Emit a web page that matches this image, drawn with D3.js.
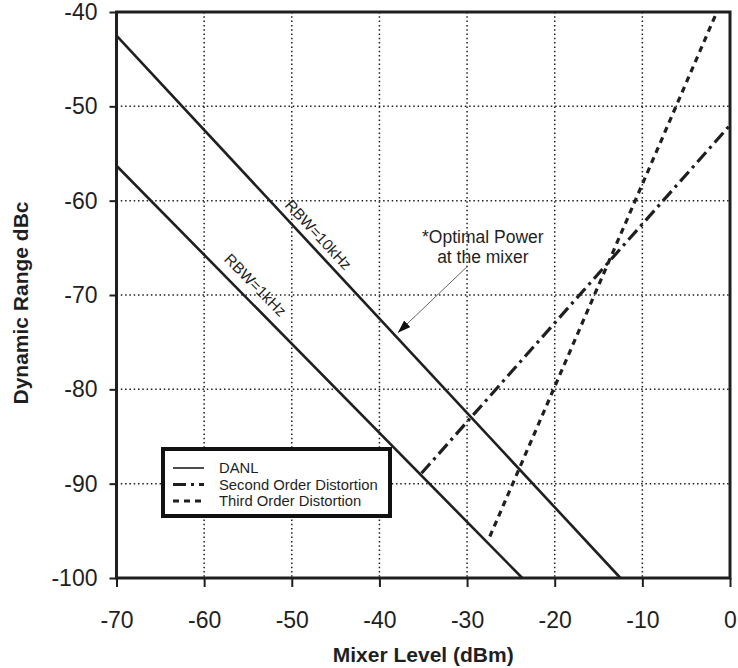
<!DOCTYPE html>
<html>
  <head>
    <meta charset="UTF-8">
    <title>Dynamic Range vs Mixer Level</title>
    <style>
      body { margin: 0; background: #fff; }
      svg { display: block; font-family: "Liberation Sans", Arial, sans-serif; }
    </style>
  </head>
  <body>
    <svg></svg>
    <script src="https://d3js.org/d3.v7.min.js"></script>
    <script>

// ---- data ----
var xTicks = [-70, -60, -50, -40, -30, -20, -10, 0];
var yTicks = [-100, -90, -80, -70, -60, -50, -40];

// each series is two end points: [mixer level dBm, dynamic range dBc]
var danl10kX = [-70, -12.5];
var danl10kY = [-42.5, -100];
var danl1kX = [-70, -23.7];
var danl1kY = [-56.3, -100];
var secondX = [-35.2, 0];
var secondY = [-88.9, -52.0];
var thirdX = [-27.4, -1.5];
var thirdY = [-95.6, -40];

var legendLabels = ["DANL", "Second Order Distortion", "Third Order Distortion"];
var noteLines = ["*Optimal Power", "at the mixer"];

var config = {
  width: 738,
  height: 668,
  margin: { top: 12, right: 8, bottom: 90, left: 116.5 },
  ink: "#1f1f1f"
};

var svg = d3.select("svg")
  .attr("width", config.width)
  .attr("height", config.height);

var m = config.margin;
var w = config.width - m.left - m.right,
    h = config.height - m.top - m.bottom;

var x = d3.scaleLinear().domain([-70, 0]).range([m.left, m.left + w]);
var y = d3.scaleLinear().domain([-100, -40]).range([m.top + h, m.top]);

function pts(xs, ys) {
  return xs.map(function(d, i) { return [d, ys[i]]; });
}
var line = d3.line().x(function(d) { return x(d[0]); }).y(function(d) { return y(d[1]); });

// dotted grid
var grid = svg.append("g").attr("stroke", config.ink).attr("stroke-width", 1.5)
  .attr("stroke-dasharray", "1.5,2.8");
grid.selectAll(".vg").data(xTicks.slice(1, -1)).enter().append("line")
  .attr("x1", function(d) { return x(d); }).attr("x2", function(d) { return x(d); })
  .attr("y1", y(-40)).attr("y2", y(-100));
grid.selectAll(".hg").data(yTicks.slice(1, -1)).enter().append("line")
  .attr("y1", function(d) { return y(d); }).attr("y2", function(d) { return y(d); })
  .attr("x1", x(-70)).attr("x2", x(0));

// series
var series = [
  { data: pts(danl10kX, danl10kY), dash: null, width: 2.6 },
  { data: pts(danl1kX, danl1kY), dash: null, width: 2.6 },
  { data: pts(secondX, secondY), dash: "13,5,3,5", width: 3.2 },
  { data: pts(thirdX, thirdY), dash: "6,5", width: 3.2 }
];
svg.append("g").selectAll("path").data(series).enter().append("path")
  .attr("d", function(d) { return line(d.data); })
  .attr("fill", "none")
  .attr("stroke", config.ink)
  .attr("stroke-width", function(d) { return d.width; })
  .attr("stroke-dasharray", function(d) { return d.dash; });

// labels along the DANL lines
function slopeAngle(xs, ys) {
  return Math.atan2(y(ys[1]) - y(ys[0]), x(xs[1]) - x(xs[0])) * 180 / Math.PI;
}
function onLine(xs, ys, xv) {
  var t = (xv - xs[0]) / (xs[1] - xs[0]);
  return [x(xv), y(ys[0] + t * (ys[1] - ys[0]))];
}
[
  { text: "RBW=10kHz", xs: danl10kX, ys: danl10kY, at: -48, dy: -7 },
  { text: "RBW=1kHz", xs: danl1kX, ys: danl1kY, at: -55.4, dy: -10 }
].forEach(function(l) {
  var p = onLine(l.xs, l.ys, l.at);
  svg.append("text")
    .attr("transform", "translate(" + p[0] + "," + p[1] + ") rotate(" + slopeAngle(l.xs, l.ys) + ")")
    .attr("dy", l.dy)
    .attr("text-anchor", "middle")
    .attr("font-size", 15.5)
    .attr("fill", config.ink)
    .text(l.text);
});

// optimal power note with arrow
svg.append("defs").append("marker")
  .attr("id", "head")
  .attr("viewBox", "0 0 13 9")
  .attr("refX", 13).attr("refY", 4.5)
  .attr("markerWidth", 13).attr("markerHeight", 9)
  .attr("markerUnits", "userSpaceOnUse")
  .attr("orient", "auto")
  .append("path").attr("d", "M0,0 L13,4.5 L0,9 Z").attr("fill", "#111");

svg.append("line")
  .attr("x1", x(-30.0)).attr("y1", y(-67.0))
  .attr("x2", x(-37.9)).attr("y2", y(-74.0))
  .attr("stroke", "#666").attr("stroke-width", 1)
  .attr("marker-end", "url(#head)");

svg.append("g").selectAll("text").data(noteLines).enter().append("text")
  .attr("x", x(-28.2))
  .attr("y", function(d, i) { return y(-64.5) + i * 19.5; })
  .attr("text-anchor", "middle")
  .attr("font-size", 17.5)
  .attr("fill", config.ink)
  .text(function(d) { return d; });

// legend
var lg = svg.append("g");
lg.append("rect")
  .attr("x", 163).attr("y", 449).attr("width", 227).attr("height", 67)
  .attr("fill", "#fff").attr("stroke", "#111").attr("stroke-width", 4);
var legendDash = [null, "13,5,3,5", "6,5"];
var legendWidth = [1.6, 3.2, 3.2];
legendLabels.forEach(function(d, i) {
  var by = 473 + i * 16.5;
  lg.append("line")
    .attr("x1", 173).attr("x2", 204)
    .attr("y1", by - 5).attr("y2", by - 5)
    .attr("stroke", config.ink)
    .attr("stroke-width", legendWidth[i])
    .attr("stroke-dasharray", legendDash[i]);
  lg.append("text")
    .attr("x", 219).attr("y", by)
    .attr("font-size", 14.8)
    .attr("fill", config.ink)
    .text(d);
});

// axes
var xAxis = svg.append("g")
  .attr("transform", "translate(0," + y(-100) + ")")
  .call(d3.axisBottom(x).tickValues(xTicks).tickSize(9).tickPadding(25).tickFormat(d3.format("d")));
var yAxis = svg.append("g")
  .attr("transform", "translate(" + x(-70) + ",0)")
  .call(d3.axisLeft(y).tickValues(yTicks).tickSize(7).tickPadding(12).tickFormat(d3.format("d")));

[xAxis, yAxis].forEach(function(a) {
  a.select(".domain").remove();
  a.selectAll(".tick line").attr("stroke", config.ink).attr("stroke-width", 2);
  a.selectAll(".tick text")
    .attr("font-family", "'Liberation Sans', Arial, sans-serif")
    .attr("font-size", 23)
    .attr("fill", config.ink)
    .text(function(d) { return String(d); });
});

// frame
svg.append("rect")
  .attr("x", x(-70)).attr("y", y(-40))
  .attr("width", x(0) - x(-70)).attr("height", y(-100) - y(-40))
  .attr("fill", "none").attr("stroke", config.ink).attr("stroke-width", 3);

// axis titles
svg.append("text")
  .attr("x", (x(-70) + x(0)) / 2).attr("y", 662)
  .attr("text-anchor", "middle")
  .attr("font-size", 21).attr("font-weight", "bold")
  .attr("fill", config.ink)
  .text("Mixer Level (dBm)");

svg.append("text")
  .attr("transform", "translate(28," + 303 + ") rotate(-90)")
  .attr("text-anchor", "middle")
  .attr("font-size", 21).attr("font-weight", "bold")
  .attr("fill", config.ink)
  .text("Dynamic Range dBc");

    </script>
  </body>
</html>
